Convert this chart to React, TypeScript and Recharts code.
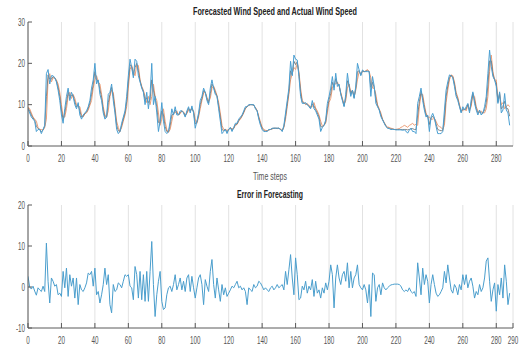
import React from 'react';
import { LineChart, Line, XAxis, YAxis, CartesianGrid } from 'recharts';

const ACTUAL = [
  9, 8, 7, 6.5, 6, 3.5, 4, 4, 3, 4,
  5, 17.5, 18.5, 15, 17, 17, 16.5, 15.5, 13.5, 11,
  7.5, 5.5, 9, 12, 14, 11, 13, 12, 10, 9,
  10.5, 7.5, 6.5, 7.5, 8, 8.5, 9.5, 11, 14, 16,
  20, 15, 16, 12.5, 11, 8, 6.5, 7, 12.5, 13,
  15, 11, 8, 4, 3, 3.5, 5.5, 7, 8.5, 12,
  17, 21, 19, 16.5, 21, 20.5, 17, 15.5, 14, 13,
  10, 13, 9, 12.5, 20, 10, 12, 8, 3.5, 6,
  10.5, 6, 3.5, 3, 3.5, 6, 9, 7.5, 9.5, 7.5,
  7.5, 8.5, 8.5, 8, 7, 8.5, 9.5, 8, 9.7, 8,
  4.3, 6, 8, 11, 12, 14, 13, 11, 10, 14,
  16, 14, 12.5, 12, 9, 6, 3, 3.5, 4, 3,
  4, 4.5, 3.5, 4.5, 5.5, 5.5, 6.5, 7, 7.5, 8.5,
  9.5, 9.5, 10, 10, 10, 10, 9, 8.5, 6.5, 5,
  4, 3.5, 3.5, 3.5, 4, 4, 4.3, 4.3, 4.3, 4.3,
  4.3, 4, 3.5, 5, 8, 11, 14, 20.5, 17, 22,
  21, 20.8, 16.8, 12, 10.3, 10.3, 10.5, 10, 9.5, 9,
  11, 9, 8.5, 7.5, 6.5, 3.5, 4.5, 5, 6.3, 10.3,
  12, 14, 16.8, 13.5, 17.6, 14.4, 15, 12.5, 11, 9.5,
  12.5, 17.6, 14.5, 12, 13.5, 11.5, 14.5, 20, 18.4, 17,
  18.4, 18, 18, 18, 18, 12, 16.8, 14.5, 10.3, 9.5,
  8.7, 7.1, 6.3, 5.5, 4.7, 4.3, 4.2, 4, 4, 4,
  3.9, 3.9, 3.9, 3.9, 3.8, 3.9, 3.6, 3.1, 3.8, 4.3,
  3.5, 3.5, 3, 10.3, 12, 14, 11, 8.7, 7, 7.5,
  3.5, 7, 7.9, 6.8, 4.7, 3, 3, 3, 3.5, 8.7,
  13.5, 15.5, 17.2, 17, 16.5, 14.4, 12, 11, 9.5, 8,
  9.5, 8.7, 9.5, 10.3, 8, 11.2, 13.1, 10.3, 8.7, 7.5,
  8.7, 7.5, 8, 9.5, 12, 17.6, 23.2, 19.2, 16.8, 16,
  14.4, 10.3, 13.1, 8, 8.7, 12.7, 8.7, 8, 5,
];

const FORECAST = [
  9.5, 9, 8, 7, 6.5, 6, 4.5, 4, 4, 3.8,
  4.5, 6.5, 16, 17.5, 15.5, 16.5, 16.5, 16, 15, 13,
  10, 7, 7, 9, 12, 13, 11.5, 12.5, 11.5, 10,
  9.5, 9.5, 7.5, 7, 7.8, 8, 8.7, 9.8, 11, 14,
  16, 17, 15.5, 15, 12.5, 9.5, 7.5, 7, 8.5, 12,
  13.5, 13, 9.5, 6, 4.5, 3.5, 4.5, 6, 7.5, 9.5,
  14, 18.5, 19.5, 18, 17, 19.5, 19.5, 16, 14.5, 13.5,
  12, 10.5, 12, 10, 12, 15, 12, 11, 8, 5,
  6.5, 9, 6, 4, 3.3, 4, 6, 8, 8, 8.5,
  7.5, 7.8, 8.5, 8.3, 7.5, 7.8, 8.7, 8.8, 8.8, 8.5,
  6.5, 5.5, 7, 9, 11, 12.8, 13, 11.8, 10.8, 11.5,
  14, 14.5, 13.5, 12.2, 10.5, 8, 5, 4, 4, 3.8,
  4, 4.3, 4.2, 4.2, 5, 5.2, 6, 6.5, 7.2, 8,
  9, 9.5, 9.8, 10, 10, 9.8, 9.3, 8.6, 7.2, 5.8,
  4.6, 4, 3.8, 3.7, 3.9, 4, 4.1, 4.3, 4.3, 4.2,
  4.3, 4.1, 3.8, 4.5, 6.5, 9.5, 12.5, 16, 17.5, 19,
  18.5, 20, 18, 14, 11, 10.5, 10, 10.3, 9.8, 9.5,
  9.5, 10.5, 9.2, 8.5, 7.5, 6, 4.8, 5, 5.5, 8,
  10.5, 11.5, 14, 15, 15, 15.5, 14.5, 13, 11.5, 10,
  11, 14, 15, 13, 13.5, 12, 13.5, 16, 18, 17.5,
  18, 18, 18.2, 18.5, 18, 16.5, 14, 14, 12.5, 10,
  9, 8, 6.5, 5.7, 5, 4.6, 4.5, 4.3, 4.2, 4,
  4, 4.1, 4.2, 4.5, 4.7, 5, 4.8, 4.5, 5, 5.2,
  5.5, 5, 5.3, 5, 9.5, 12.5, 12.5, 10, 8, 7,
  7, 6.5, 6.5, 6.7, 6, 5, 4.7, 4.5, 4, 5,
  10.5, 13.5, 16, 17.2, 17, 15.5, 13, 11.8, 10, 8.5,
  8.5, 9, 8.5, 10, 8.8, 9.5, 12.5, 12, 9.5, 8.5,
  8, 8.5, 8, 8, 9, 12, 18, 22, 18, 16,
  16, 11, 12.5, 10, 10.5, 9, 9.5, 10, 9.5,
];

const FORECAST_B = [
  9.2, 8.5, 7.5, 6.8, 6.2, 4.8, 4.2, 4, 3.5, 3.9,
  4.8, 12, 17.2, 16.2, 16.2, 16.8, 16.5, 15.7, 14.2, 12,
  8.7, 6.3, 8, 10.5, 13, 12, 12.2, 12.2, 10.7, 9.5,
  10, 8.5, 7, 7.2, 7.9, 8.2, 9.1, 10.4, 12.5, 15,
  18, 16, 15.7, 13.7, 11.7, 8.7, 7, 7, 10.5, 12.5,
  14.2, 12, 8.7, 5, 3.7, 3.5, 5, 6.5, 8, 10.7,
  15.5, 19.7, 19.2, 17.2, 19, 20, 18.2, 15.7, 14.2, 13.2,
  11, 11.7, 10.5, 11.2, 16, 13.5, 11.7, 9.5, 5.7, 5.5,
  8.5, 7.5, 4.7, 3.5, 3.4, 5, 7.5, 7.7, 8.7, 8,
  7.5, 8.1, 8.5, 8.1, 7.2, 8.1, 9.1, 8.4, 9.2, 8.2,
  5.4, 5.7, 7.5, 10, 11.5, 13.4, 13, 11.4, 10.4, 12.7,
  15, 14.2, 13, 12.1, 9.7, 7, 4, 3.7, 4, 3.4,
  4, 4.4, 3.8, 4.3, 5.2, 5.3, 6.2, 6.7, 7.3, 8.2,
  9.2, 9.5, 9.9, 10, 10, 9.9, 9.2, 8.5, 6.8, 5.4,
  4.3, 3.7, 3.6, 3.6, 3.9, 4, 4.2, 4.3, 4.3, 4.3,
  4.3, 4, 3.6, 4.7, 7.2, 10.2, 13.2, 18.2, 17.2, 20.5,
  19.7, 20.4, 17.4, 13, 10.6, 10.4, 10.2, 10.1, 9.6, 9.2,
  10.2, 9.7, 8.8, 8, 7, 4.7, 4.6, 5, 5.9, 9.1,
  11.2, 12.7, 15.4, 14.2, 16.3, 15, 14.7, 12.7, 11.2, 9.7,
  11.7, 15.8, 14.7, 12.5, 13.5, 11.7, 14, 18, 18.2, 17.2,
  18.2, 18, 18.1, 18.2, 18, 14.2, 15.4, 14.2, 11.4, 9.7,
  8.8, 7.5, 6.4, 5.6, 4.8, 4.4, 4.3, 4.1, 4.1, 4,
  4, 4, 4, 4, 4, 4, 4, 3.9, 4, 4.2,
  4.2, 4, 4, 7.5, 10.7, 13.2, 11.7, 9.3, 7.5, 7.2,
  5.2, 6.7, 7.2, 6.7, 5.3, 4, 3.8, 3.7, 3.7, 6.8,
  12, 14.5, 16.6, 17.1, 16.7, 15, 12.5, 11.4, 9.7, 8.2,
  9, 8.8, 9, 10.1, 8.4, 10.3, 12.8, 11.1, 9.1, 8,
  8.3, 8, 8, 8.7, 10.5, 14.8, 20.6, 20.6, 17.4, 16,
  15.2, 10.6, 12.8, 9, 9.6, 10.8, 9.1, 9, 7.2,
];

const ERROR = [
  2.6, 0, -0.5, 0.2, -1, -2, -0.2, -0.7, -1.1, 0.2,
  -1.1, 10.7, 1.4, -3.9, 2.2, 1.4, 0.2, 0.6, -1.9, -1.5,
  -2.3, 3.8, -0.2, 4.6, -2.3, 3, 0.2, 2.2, -2.7, 2.2,
  -4.3, 0.6, -0.7, -1.1, -0.2, 1, 3.4, 3, 3.8, 0.2,
  4.6, -1.9, -1.1, -3.9, -1.9, 0.6, 4.6, 0.6, 3, -4.3,
  -6.3, 0.6, -1.1, -0.7, 1, 0.6, -0.2, 1.4, 3, 2.6,
  3, 0.2, -0.2, -3.1, 5, 3, -2.7, 3.8, -3.1, 3,
  -3.5, 3.8, -3.5, 3.8, 11.1, 0.6, -7.2, -1.9, 1.4, 3.8,
  -3.5, -5.5, -5.1, -1.9, -0.2, 0.2, -1.1, 0.6, 3, -0.7,
  0.6, 2.2, -0.7, 1.4, -1.1, 2.2, 3, -1.1, 2.6, -0.2,
  -2.7, -0.2, 2.2, 3, 0.6, -4.3, 1.8, 0.2, -1.1, 3.8,
  6.7, 0.6, -2.7, 2.2, -0.7, -3.5, 0.6, -1.9, -0.2, -2.3,
  -1.5, -0.7, 0.2, -0.2, 0.6, 1.4, -0.2, 0.2, -0.7, -0.2,
  -1.1, -4.3, -0.2, -0.7, -1.1, 0.6, -0.2, 0.2, 1.4, 1,
  0.2, -0.7, -0.2, -0.7, -1.1, -0.2, 0.2, -0.7, -0.2, 0.6,
  -0.2, 0.2, 0.6, -0.7, 3.8, 0.6, 4.2, 7.9, 2.2, -1.9,
  7.1, 3, -3.1, -2.7, 0.2, -0.7, 1.4, -1.5, 0.2, -0.7,
  1.8, -2.3, 1.4, -1.5, -0.7, -2.7, -0.2, -1.5, 1, -0.7,
  1.4, 5.4, 3, -5.1, 2.2, 5.4, 2.2, 0.6, 3, 3.8,
  1.4, 5.9, -0.2, 3.8, -0.2, 2.2, 3, 5.4, 0.6, -0.2,
  -0.7, 0.6, -0.7, -3.9, 0.6, -7.2, 3.4, 3, -3.5, -0.2,
  0.6, -1.9, 1, -0.2, -0.7, -0.2, 0.2, 0.5, 0.6, 0.7,
  0.7, 0.7, 0.6, 0.2, -0.7, -1.1, -0.7, -1.1, -0.2, -1.1,
  -1.5, -1.1, -2.3, 5.9, 2.2, -1.9, 4.6, 0.6, 3, 1.4,
  -3.9, 0.6, 3, 0.6, -1.5, -2.3, -1.9, -1.1, -0.2, 3.8,
  1, 5.4, 2.2, -0.7, -1.5, 0.6, -0.2, -1.9, 0.6, -0.7,
  3, 0.6, 3, -0.2, 1.4, 2.2, 0.2, -2.7, -1.1, -1.9,
  0.6, -1.1, -0.2, 2.2, 6.3, 7.1, 1.4, -3.5, -0.7, 1,
  -5.9, 0.6, -1.9, 2.2, -2.7, 5.4, 1.4, -4.3, -1.5,
];

const TOP_X_TICKS = [0, 20, 40, 60, 80, 100, 120, 140, 160, 180, 200, 220, 240, 260, 280];
const BOTTOM_X_TICKS = [0, 20, 40, 60, 80, 100, 120, 140, 160, 180, 200, 220, 240, 260, 280, 290];
const TOP_Y_TICKS = [0, 10, 20, 30];
const BOTTOM_Y_TICKS = [-10, 0, 10, 20];

const TOP_TITLE = 'Forecasted Wind Speed and Actual Wind Speed';
const X_LABEL = 'Time steps';
const BOTTOM_TITLE = 'Error in Forecasting';

const topData = ACTUAL.map((v, i) => ({ t: i, actual: v, forecast: FORECAST[i], forecastB: FORECAST_B[i] }));
const errData = ERROR.map((v, i) => ({ t: i, error: v }));

const AXIS = '#5a5a5a';
const LABEL = '#555555';
const GRID = '#e2e2e2';
const FONT = '"Liberation Sans", Arial, Helvetica, sans-serif';
const SX = 0.6;

const squeeze = (x: number) => `translate(${x} 0) scale(${SX} 1) translate(${-x} 0)`;

const BottomTick = (props: any) => {
  const { x, y, payload } = props;
  return (
    <g>
      <line x1={x} x2={x} y1={y} y2={y - 5} stroke={AXIS} strokeWidth={1} />
      <text x={x} y={y + 16.5} textAnchor="middle" fontSize={10.5} fill={LABEL} fontFamily={FONT} transform={squeeze(x)}>
        {payload.value}
      </text>
    </g>
  );
};

const TopTick = (props: any) => {
  const { x, y } = props;
  return <line x1={x} x2={x} y1={y} y2={y + 5} stroke={AXIS} strokeWidth={1} />;
};

const LeftTick = (props: any) => {
  const { x, y, payload } = props;
  return (
    <g>
      <line x1={x} x2={x + 4} y1={y} y2={y} stroke={AXIS} strokeWidth={1} />
      <text x={x - 3} y={y + 3.7} textAnchor="end" fontSize={10.5} fill={LABEL} fontFamily={FONT} transform={squeeze(x - 3)}>
        {payload.value}
      </text>
    </g>
  );
};

const RightTick = (props: any) => {
  const { x, y } = props;
  return <line x1={x - 4} x2={x} y1={y} y2={y} stroke={AXIS} strokeWidth={1} />;
};

export default function App() {
  return (
    <div style={{ position: 'absolute', left: 0, top: 0, width: 520, height: 349, background: '#ffffff', overflow: 'hidden' }}>
      <div style={{ position: 'absolute', left: 0, top: 0 }}>
        <LineChart width={520} height={175} data={topData} margin={{ top: 22, right: 7, bottom: 0, left: 0 }}>
          <CartesianGrid horizontal={false} stroke={GRID} strokeWidth={1} />
          <XAxis dataKey="t" type="number" domain={[0, 290]} ticks={TOP_X_TICKS} allowDataOverflow
            height={29} tickSize={0} tickMargin={0} stroke={AXIS} tickLine={false} tick={(p: any) => <BottomTick {...p} />} interval={0} />
          <XAxis xAxisId="top" orientation="top" dataKey="t" type="number" domain={[0, 290]} ticks={TOP_X_TICKS} allowDataOverflow
            height={0} tickSize={0} tickMargin={0} stroke={AXIS} tickLine={false} tick={(p: any) => <TopTick {...p} />} interval={0} />
          <YAxis type="number" domain={[0, 30]} ticks={TOP_Y_TICKS} allowDataOverflow width={28} tickSize={0} tickMargin={0}
            stroke={AXIS} tickLine={false} tick={(p: any) => <LeftTick {...p} />} interval={0} />
          <YAxis yAxisId="r" orientation="right" type="number" domain={[0, 30]} ticks={TOP_Y_TICKS} allowDataOverflow width={0}
            tickSize={0} tickMargin={0} stroke={AXIS} tickLine={false} tick={(p: any) => <RightTick {...p} />} interval={0} />
          <Line dataKey="forecast" stroke="#eda07a" strokeWidth={1} dot={false} isAnimationActive={false} />
          <Line dataKey="forecastB" stroke="#6a6a6a" strokeWidth={0.8} dot={false} isAnimationActive={false} />
          <Line dataKey="actual" stroke="#4a9fd2" strokeWidth={1} dot={false} isAnimationActive={false} />
        </LineChart>
      </div>
      <div style={{ position: 'absolute', left: 0, top: 175 }}>
        <LineChart width={520} height={174} data={errData} margin={{ top: 30, right: 7, bottom: 0, left: 0 }}>
          <CartesianGrid horizontal={false} stroke={GRID} strokeWidth={1} />
          <XAxis dataKey="t" type="number" domain={[0, 290]} ticks={BOTTOM_X_TICKS} allowDataOverflow
            height={21} tickSize={0} tickMargin={0} stroke={AXIS} tickLine={false} tick={(p: any) => <BottomTick {...p} />} interval={0} />
          <XAxis xAxisId="top" orientation="top" dataKey="t" type="number" domain={[0, 290]} ticks={BOTTOM_X_TICKS} allowDataOverflow
            height={0} tickSize={0} tickMargin={0} stroke={AXIS} tickLine={false} tick={(p: any) => <TopTick {...p} />} interval={0} />
          <YAxis type="number" domain={[-10, 20]} ticks={BOTTOM_Y_TICKS} allowDataOverflow width={28} tickSize={0} tickMargin={0}
            stroke={AXIS} tickLine={false} tick={(p: any) => <LeftTick {...p} />} interval={0} />
          <YAxis yAxisId="r" orientation="right" type="number" domain={[-10, 20]} ticks={BOTTOM_Y_TICKS} allowDataOverflow width={0}
            tickSize={0} tickMargin={0} stroke={AXIS} tickLine={false} tick={(p: any) => <RightTick {...p} />} interval={0} />
          <Line dataKey="error" stroke="#4a9ecd" strokeWidth={1} dot={false} isAnimationActive={false} />
        </LineChart>
      </div>
      <svg width={520} height={349} style={{ position: 'absolute', left: 0, top: 0, pointerEvents: 'none' }}>
        <text x={275} y={15} textAnchor="middle" fontSize={10.5} fontWeight="bold" fill="#222" fontFamily={FONT}
          textLength={164} lengthAdjust="spacingAndGlyphs">{TOP_TITLE}</text>
        <text x={270} y={180} textAnchor="middle" fontSize={10.5} fill={LABEL} fontFamily={FONT}
          textLength={34} lengthAdjust="spacingAndGlyphs">{X_LABEL}</text>
        <text x={270} y={197.7} textAnchor="middle" fontSize={10.5} fontWeight="bold" fill="#222" fontFamily={FONT}
          textLength={66} lengthAdjust="spacingAndGlyphs">{BOTTOM_TITLE}</text>
      </svg>
    </div>
  );
}
